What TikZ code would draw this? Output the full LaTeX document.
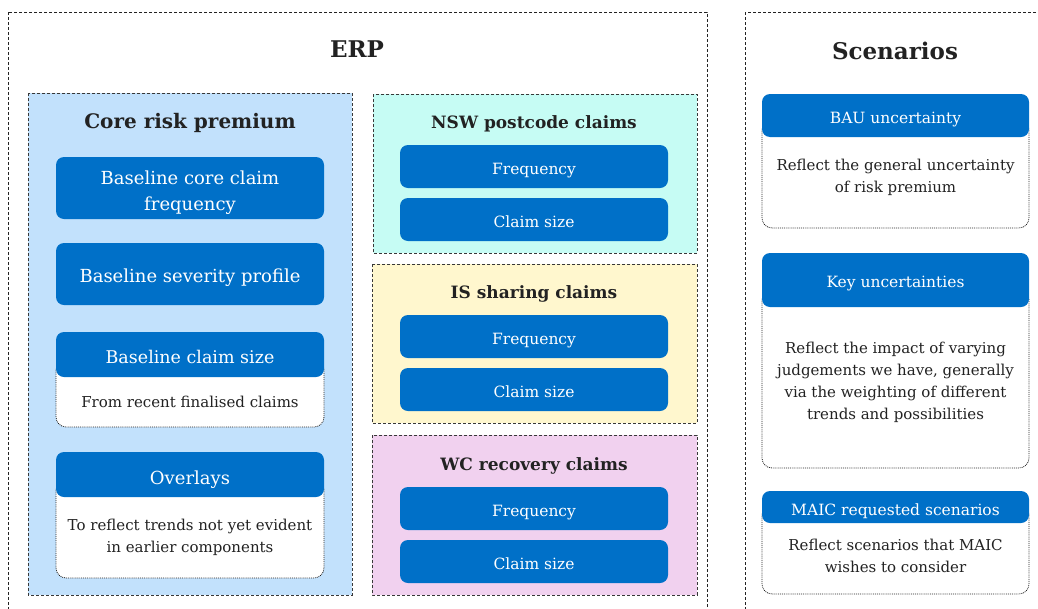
\documentclass[tikz,border=0pt]{standalone}
\usepackage{fontspec}
\setmainfont{DejaVu Serif}
\usetikzlibrary{positioning}
\definecolor{boxblue}{HTML}{0070C8}
\definecolor{corefill}{HTML}{C2E1FC}
\definecolor{nswfill}{HTML}{C6FCF4}
\definecolor{isfill}{HTML}{FFF7CE}
\definecolor{wcfill}{HTML}{F1D1EF}
\definecolor{ink}{HTML}{222222}

\begin{document}
\begin{tikzpicture}[x=1pt,y=-1pt,
  frame/.style={draw=ink,dash pattern=on 3pt off 2pt,line width=.8pt},
  panel/.style={draw=ink!90,dash pattern=on 3pt off 2pt,line width=.9pt},
  head/.style={font=\fontsize{23}{28}\selectfont\bfseries,text=ink},
  sub/.style={font=\fontsize{17}{22}\selectfont\bfseries,text=ink},
  bluebox/.style={fill=boxblue,rounded corners=8pt,inner sep=0pt,minimum width=268pt},
  smallbox/.style={bluebox,minimum height=43pt},
  boxtext/.style={text=white,align=center,yshift=-4pt,font=\fontsize{18}{26}\selectfont},
  smalltext/.style={boxtext,font=\fontsize{15.5}{20}\selectfont},
  note/.style={draw=ink,dash pattern=on .9pt off 1pt,line width=.8pt,fill=white,rounded corners=10pt,minimum width=268pt,inner sep=0pt},
  notetext/.style={text=ink,align=center,font=\fontsize{15}{22}\selectfont}]

\useasboundingbox (0,0) rectangle (1038,608);

% Rahmen
\draw[frame] (8,12) rectangle (707,625);
\draw[frame] (745,12) rectangle (1050,625);
\node[head] (erp) at (357,49) {ERP};
\node[head] (scen) at (895,51) {Scenarios};

% Core risk premium
\draw[panel,fill=corefill] (28,93) rectangle (352,595);
\node[sub,font=\fontsize{20}{26}\selectfont\bfseries] (core) at (190,123) {Core risk premium};
\node[bluebox,minimum height=62pt,label={[boxtext,yshift=-.5pt]center:Baseline core claim\\frequency}] (basefreq) at (190,188) {};
\node[bluebox,minimum height=62pt,label={[boxtext]center:Baseline severity profile}] (sevprof) at (190,274) {};
\node[note,minimum height=67pt,label={[notetext,yshift=-8.5pt]center:From recent finalised claims}] (sizenote) at (190,393.5) {};
\node[bluebox,minimum height=45pt,label={[boxtext,yshift=1.5pt,font=\fontsize{17.5}{24}\selectfont]center:Baseline claim size}] (basesize) at (190,354.5) {};
\node[note,minimum height=98pt,label={[notetext,yshift=-8pt]center:To reflect trends not yet evident\\in earlier components}] (overnote) at (190,529) {};
\node[bluebox,minimum height=45pt,label={[boxtext,yshift=-1.5pt]center:Overlays}] (overlays) at (190,474.5) {};

% NSW postcode claims
\draw[panel,fill=nswfill] (373,94) rectangle (697,253);
\node[sub] (nsw) at (534,124) {NSW postcode claims};
\node[smallbox,label={[smalltext]center:Frequency}] (nswfreq) at (534,166.5) {};
\node[smallbox,label={[smalltext,yshift=2pt]center:Claim size}] (nswsize) at (534,219.5) {};

% IS sharing claims
\draw[panel,fill=isfill] (372,264) rectangle (697,423);
\node[sub] (is) at (534,294) {IS sharing claims};
\node[smallbox,label={[smalltext]center:Frequency}] (isfreq) at (534,336.5) {};
\node[smallbox,label={[smalltext,yshift=2pt]center:Claim size}] (issize) at (534,389.5) {};

% WC recovery claims
\draw[panel,fill=wcfill] (372,435) rectangle (697,595);
\node[sub] (wc) at (534,466) {WC recovery claims};
\node[smallbox,label={[smalltext]center:Frequency}] (wcfreq) at (534,508.5) {};
\node[smallbox,label={[smalltext,yshift=2pt]center:Claim size}] (wcsize) at (534,561.5) {};

% Scenarios
\node[note,minimum width=267pt,minimum height=108pt,label={[notetext,yshift=-3pt]center:Reflect the general uncertainty\\of risk premium}] (baunote) at (895.5,174) {};
\node[smallbox,minimum width=267pt,label={[smalltext]center:BAU uncertainty}] (bau) at (895.5,115.5) {};
\node[note,minimum width=267pt,minimum height=178pt,label={[notetext,yshift=-3.5pt]center:Reflect the impact of varying\\judgements we have, generally\\via the weighting of different\\trends and possibilities}] (keynote) at (895.5,379) {};
\node[smallbox,minimum width=267pt,minimum height=54pt,label={[smalltext]center:Key uncertainties}] (key) at (895.5,280) {};
\node[note,minimum width=267pt,minimum height=89pt,label={[notetext,yshift=-6.5pt]center:Reflect scenarios that MAIC\\wishes to consider}] (maicnote) at (895.5,549.5) {};
\node[smallbox,minimum width=267pt,minimum height=32pt,label={[smalltext]center:MAIC requested scenarios}] (maic) at (895.5,507) {};
\end{tikzpicture}
\end{document}
